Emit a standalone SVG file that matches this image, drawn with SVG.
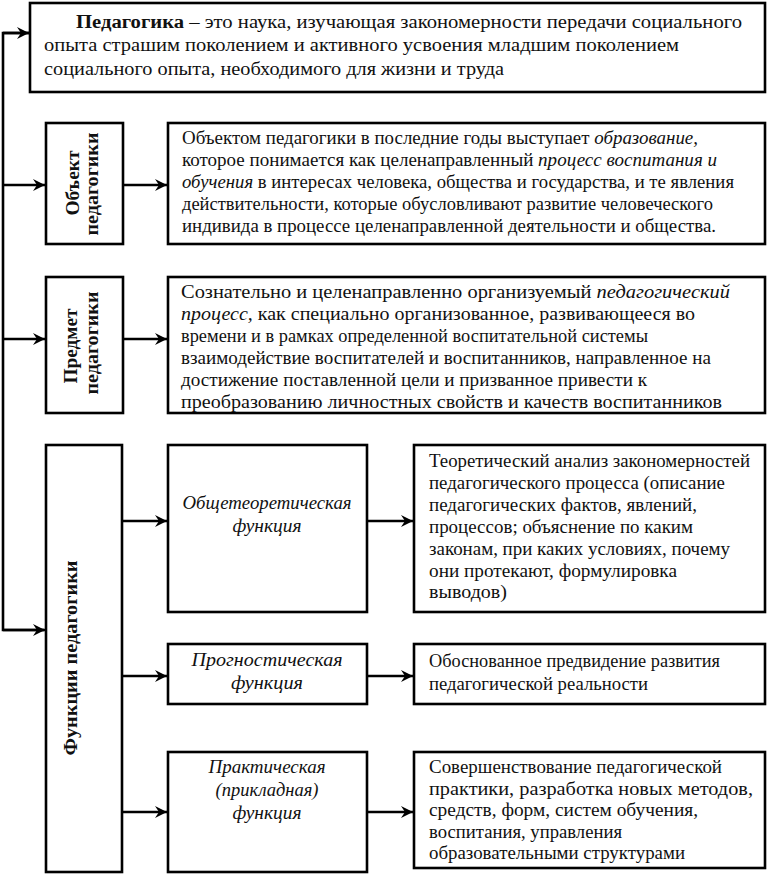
<svg xmlns="http://www.w3.org/2000/svg" width="768" height="874" viewBox="0 0 768 874">
<style>
.box{fill:#fff;stroke:#000;stroke-width:2.6}
.t{font-family:"Liberation Serif","DejaVu Serif","Times New Roman",serif;font-size:18px;fill:#111}
.b{font-weight:bold}
.i{font-style:italic}
.lbl{font-family:"Liberation Serif","DejaVu Serif","Times New Roman",serif;font-size:18px;font-style:italic;fill:#111;text-anchor:middle}
.vt{font-family:"Liberation Serif","DejaVu Serif","Times New Roman",serif;font-size:19px;font-weight:bold;fill:#111;text-anchor:middle}
.con{fill:none;stroke:#000;stroke-width:2.6}
</style>
<defs>
<marker id="ah" markerUnits="userSpaceOnUse" markerWidth="14" markerHeight="14" refX="12" refY="7" orient="auto">
<path d="M0,1 L12,7 L0,13 L4,7 z" fill="#000"/>
</marker>
</defs>
<rect width="768" height="874" fill="#fff"/>

<g id="connectors">
<polyline class="con" points="30,33 3,33 3,630 44,630"/>
<line class="con" x1="3" y1="33" x2="29" y2="33" marker-end="url(#ah)"/>
<line class="con" x1="3" y1="630" x2="45" y2="630" marker-end="url(#ah)"/>
<line class="con" x1="3" y1="185" x2="45" y2="185" marker-end="url(#ah)"/>
<line class="con" x1="123" y1="185" x2="167" y2="185" marker-end="url(#ah)"/>
<line class="con" x1="3" y1="339" x2="45" y2="339" marker-end="url(#ah)"/>
<line class="con" x1="123" y1="339" x2="167" y2="339" marker-end="url(#ah)"/>
<line class="con" x1="122" y1="521" x2="167" y2="521" marker-end="url(#ah)"/>
<line class="con" x1="122" y1="676" x2="167" y2="676" marker-end="url(#ah)"/>
<line class="con" x1="122" y1="812" x2="167" y2="812" marker-end="url(#ah)"/>
<line class="con" x1="367" y1="521" x2="413" y2="521" marker-end="url(#ah)"/>
<line class="con" x1="367" y1="676" x2="413" y2="676" marker-end="url(#ah)"/>
<line class="con" x1="367" y1="812" x2="413" y2="812" marker-end="url(#ah)"/>
</g>

<g id="pedagogy">
<rect class="box" x="30" y="3" width="735" height="89"/>
<text class="t" x="76" y="28" textLength="666" lengthAdjust="spacingAndGlyphs"><tspan class="b">Педагогика</tspan> – это наука, изучающая закономерности передачи социального</text>
<text class="t" x="44" y="51" textLength="635" lengthAdjust="spacingAndGlyphs">опыта страшим поколением и активного усвоения младшим поколением</text>
<text class="t" x="44" y="75" textLength="460" lengthAdjust="spacingAndGlyphs">социального опыта, необходимого для жизни и труда</text>
</g>

<g id="object">
<rect class="box" x="46" y="123" width="77" height="121"/>
<text class="vt" transform="translate(79,183) rotate(-90)" textLength="65" lengthAdjust="spacingAndGlyphs">Объект</text>
<text class="vt" transform="translate(98,184) rotate(-90)" textLength="103" lengthAdjust="spacingAndGlyphs">педагогики</text>
</g>

<g id="object-text">
<rect class="box" x="168" y="123" width="597" height="121"/>
<text class="t" x="182" y="144" textLength="516" lengthAdjust="spacingAndGlyphs">Объектом педагогики в последние годы выступает <tspan class="i">образование,</tspan></text>
<text class="t" x="182" y="166" textLength="535" lengthAdjust="spacingAndGlyphs">которое понимается как целенаправленный <tspan class="i">процесс воспитания и</tspan></text>
<text class="t" x="182" y="188" textLength="552" lengthAdjust="spacingAndGlyphs"><tspan class="i">обучения</tspan> в интересах человека, общества и государства, и те явления</text>
<text class="t" x="182" y="210" textLength="531" lengthAdjust="spacingAndGlyphs">действительности, которые обусловливают развитие человеческого</text>
<text class="t" x="182" y="232" textLength="534" lengthAdjust="spacingAndGlyphs">индивида в процессе целенаправленной деятельности и общества.</text>
</g>

<g id="subject">
<rect class="box" x="46" y="277" width="77" height="136"/>
<text class="vt" transform="translate(77,346) rotate(-90)" textLength="75" lengthAdjust="spacingAndGlyphs">Предмет</text>
<text class="vt" transform="translate(98,343) rotate(-90)" textLength="103" lengthAdjust="spacingAndGlyphs">педагогики</text>
</g>

<g id="subject-text">
<rect class="box" x="168" y="277" width="597" height="136"/>
<text class="t" x="181" y="298" textLength="549" lengthAdjust="spacingAndGlyphs">Сознательно и целенаправленно организуемый <tspan class="i">педагогический</tspan></text>
<text class="t" x="181" y="320" textLength="514" lengthAdjust="spacingAndGlyphs"><tspan class="i">процесс,</tspan> как специально организованное, развивающееся во</text>
<text class="t" x="181" y="342" textLength="467" lengthAdjust="spacingAndGlyphs">времени и в рамках определенной воспитательной системы</text>
<text class="t" x="181" y="364" textLength="530" lengthAdjust="spacingAndGlyphs">взаимодействие воспитателей и воспитанников, направленное на</text>
<text class="t" x="181" y="386" textLength="466" lengthAdjust="spacingAndGlyphs">достижение поставленной цели и призванное привести к</text>
<text class="t" x="181" y="408" textLength="541" lengthAdjust="spacingAndGlyphs">преобразованию личностных свойств и качеств воспитанников</text>
</g>

<g id="functions">
<rect class="box" x="46" y="445" width="76" height="427"/>
<text class="vt" transform="translate(77,658) rotate(-90)" textLength="195" lengthAdjust="spacingAndGlyphs">Функции педагогики</text>
</g>

<g id="general-theoretical">
<rect class="box" x="168" y="445" width="199" height="167"/>
<text class="lbl" x="267" y="509" textLength="169" lengthAdjust="spacingAndGlyphs">Общетеоретическая</text>
<text class="lbl" x="267" y="532" textLength="69" lengthAdjust="spacingAndGlyphs">функция</text>
</g>

<g id="prognostic">
<rect class="box" x="168" y="644" width="199" height="60"/>
<text class="lbl" x="267" y="666" textLength="151" lengthAdjust="spacingAndGlyphs">Прогностическая</text>
<text class="lbl" x="267" y="689" textLength="72" lengthAdjust="spacingAndGlyphs">функция</text>
</g>

<g id="practical">
<rect class="box" x="168" y="752" width="199" height="120"/>
<text class="lbl" x="267" y="773" textLength="117" lengthAdjust="spacingAndGlyphs">Практическая</text>
<text class="lbl" x="267" y="796" textLength="103" lengthAdjust="spacingAndGlyphs">(прикладная)</text>
<text class="lbl" x="267" y="819" textLength="69" lengthAdjust="spacingAndGlyphs">функция</text>
</g>

<g id="theory-text">
<rect class="box" x="414" y="445" width="351" height="167"/>
<text class="t" x="429" y="467" textLength="321" lengthAdjust="spacingAndGlyphs">Теоретический анализ закономерностей</text>
<text class="t" x="429" y="489" textLength="296" lengthAdjust="spacingAndGlyphs">педагогического процесса (описание</text>
<text class="t" x="429" y="511" textLength="268" lengthAdjust="spacingAndGlyphs">педагогических фактов, явлений,</text>
<text class="t" x="429" y="533" textLength="264" lengthAdjust="spacingAndGlyphs">процессов; объяснение по каким</text>
<text class="t" x="429" y="555" textLength="301" lengthAdjust="spacingAndGlyphs">законам, при каких условиях, почему</text>
<text class="t" x="429" y="577" textLength="248" lengthAdjust="spacingAndGlyphs">они протекают, формулировка</text>
<text class="t" x="429" y="598" textLength="78" lengthAdjust="spacingAndGlyphs">выводов)</text>
</g>

<g id="prognosis-text">
<rect class="box" x="414" y="644" width="351" height="60"/>
<text class="t" x="429" y="667" textLength="291" lengthAdjust="spacingAndGlyphs">Обоснованное предвидение развития</text>
<text class="t" x="429" y="690" textLength="219" lengthAdjust="spacingAndGlyphs">педагогической реальности</text>
</g>

<g id="practice-text">
<rect class="box" x="414" y="752" width="351" height="116"/>
<text class="t" x="429" y="773" textLength="293" lengthAdjust="spacingAndGlyphs">Совершенствование педагогической</text>
<text class="t" x="429" y="795" textLength="324" lengthAdjust="spacingAndGlyphs">практики, разработка новых методов,</text>
<text class="t" x="429" y="816" textLength="269" lengthAdjust="spacingAndGlyphs">средств, форм, систем обучения,</text>
<text class="t" x="429" y="838" textLength="193" lengthAdjust="spacingAndGlyphs">воспитания, управления</text>
<text class="t" x="429" y="859" textLength="256" lengthAdjust="spacingAndGlyphs">образовательными структурами</text>
</g>
</svg>
